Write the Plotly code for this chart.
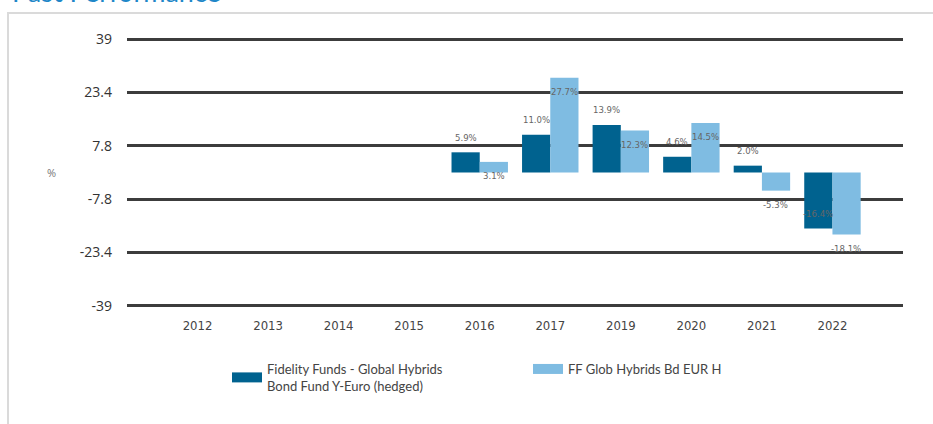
import plotly.graph_objects as go

# ---- data ----
years = ["2012", "2013", "2014", "2015", "2016", "2017", "2019", "2020", "2021", "2022"]
fund_values = [None, None, None, None, 5.9, 11.0, 13.9, 4.6, 2.0, -16.4]
index_values = [None, None, None, None, 3.1, 27.7, 12.3, 14.5, -5.3, -18.1]
fund_name = "Fidelity Funds - Global Hybrids<br>Bond Fund Y-Euro (hedged)"
index_name = "FF Glob Hybrids Bd EUR H"
y_ticks = [-39, -23.4, -7.8, 7.8, 23.4, 39]
y_ticktext = ["-39", "-23.4", "-7.8", "7.8", "23.4", "39"]

DARK = "#00628F"
LIGHT = "#7FBCE2"
W, H = 933, 424
L, R, T, B = 127, 30, 37, 116
PW, PH = W - L - R, H - T - B

def px_x(x):
    return (x - L) / PW

def px_y(y):
    return (H - B - y) / PH

narrow = "Liberation Sans Narrow, DejaVu Sans Condensed, Roboto Condensed, Arial Narrow, sans-serif"

fig = go.Figure()
fig.add_trace(go.Bar(x=years, y=fund_values, name=fund_name, showlegend=False,
                     marker=dict(color=DARK, line=dict(width=0))))
fig.add_trace(go.Bar(x=years, y=index_values, name=index_name, showlegend=False,
                     marker=dict(color=LIGHT, line=dict(width=0))))
# legend entries drawn as wide swatches
fig.add_trace(go.Scatter(x=[None], y=[None], mode="lines", name=fund_name,
                         line=dict(color=DARK, width=14), hoverinfo="skip"))
fig.add_trace(go.Scatter(x=[None], y=[None], mode="lines", name=index_name,
                         line=dict(color=LIGHT, width=14), hoverinfo="skip"))

annotations = []
label_font = dict(size=9.5, color="#666666", family=narrow)
for i, v in enumerate(fund_values):
    if v is None:
        continue
    annotations.append(dict(x=i, y=v, xref="x", yref="y", text=f"{v:.1f}%", showarrow=False,
                            xshift=-14, yshift=15, font=label_font))
for i, v in enumerate(index_values):
    if v is None:
        continue
    annotations.append(dict(x=i, y=v, xref="x", yref="y", text=f"{v:.1f}%", showarrow=False,
                            xshift=14, yshift=-14, font=label_font))

# y-axis unit label
annotations.append(dict(x=px_x(51), y=0, xref="paper", yref="y", text="%", showarrow=False,
                        xanchor="center", yanchor="middle",
                        font=dict(size=11, color="#777777", family="Open Sans, sans-serif")))
# clipped section title
annotations.append(dict(x=px_x(10), y=px_y(10), xref="paper", yref="paper", text="Past Performance",
                        showarrow=False, xanchor="left", yanchor="bottom",
                        font=dict(size=27, color="#1F87C8", family="Lato, sans-serif")))

fig.update_layout(
    width=W, height=H,
    margin=dict(l=L, r=R, t=T, b=B),
    paper_bgcolor="white", plot_bgcolor="white",
    barmode="group", bargap=0.2, bargroupgap=0,
    showlegend=True,
    legend=dict(orientation="h", x=px_x(227), y=px_y(354), xanchor="left", yanchor="top",
                entrywidth=256, entrywidthmode="pixels", traceorder="normal",
                font=dict(size=13, color="#444444", family="Lato, sans-serif"),
                itemclick=False, itemdoubleclick=False),
    xaxis=dict(type="category", categoryorder="array", categoryarray=years,
               range=[-1, 10], showgrid=False, zeroline=False, showline=False, ticks="",
               ticklabelstandoff=8,
               tickfont=dict(size=13, color="#444444", family=narrow)),
    yaxis=dict(range=[-39.6, 39.6], tickvals=y_ticks, ticktext=y_ticktext, showgrid=True,
               gridcolor="#3C3C3C", gridwidth=3, zeroline=False, showline=False, ticks="",
               ticklabelstandoff=14,
               tickfont=dict(size=14, color="#333333", family="Open Sans, sans-serif")),
    annotations=annotations,
    shapes=[dict(type="rect", xref="paper", yref="paper", x0=px_x(8), x1=px_x(960),
                 y0=px_y(13), y1=px_y(460), line=dict(color="#DADADA", width=2),
                 fillcolor="rgba(0,0,0,0)", layer="below")],
)

fig.write_html("out.html")
